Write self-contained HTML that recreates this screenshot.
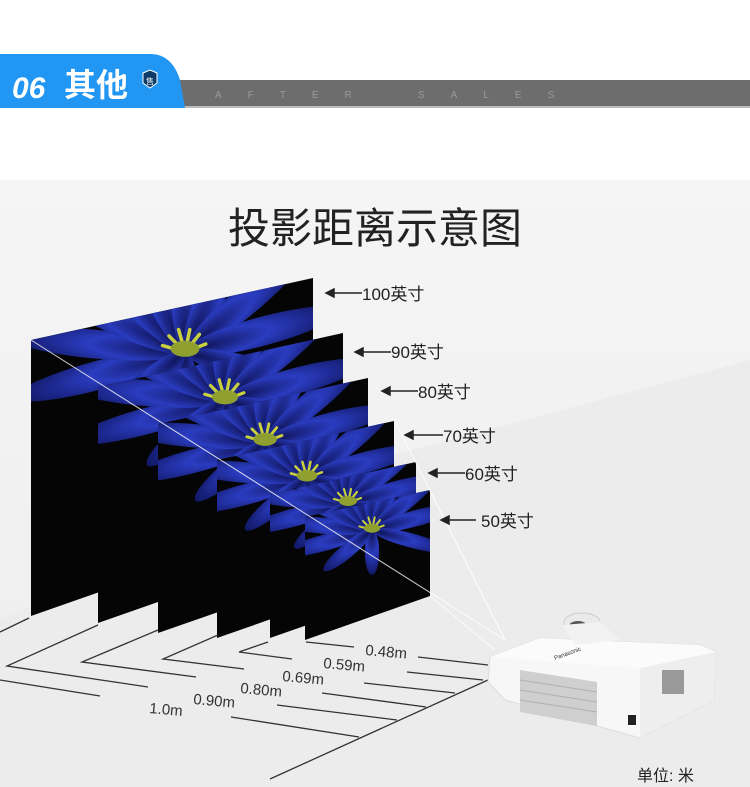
<!DOCTYPE html>
<html><head><meta charset="utf-8"><style>
html,body{margin:0;padding:0;}
body{width:750px;height:787px;overflow:hidden;background:#fff;font-family:"Liberation Sans","Noto Sans CJK SC",sans-serif;}
</style></head><body>
<svg width="750" height="787" viewBox="0 0 750 787" xmlns="http://www.w3.org/2000/svg" style="position:absolute;left:0;top:0">
<defs>
<linearGradient id="bg" x1="0" y1="0" x2="0" y2="1">
<stop offset="0" stop-color="#f5f5f5"/><stop offset="1" stop-color="#ededed"/></linearGradient>
<radialGradient id="pet" cx="0.9" cy="0.5" r="1">
<stop offset="0" stop-color="#10155a"/><stop offset="0.45" stop-color="#2a3cc0"/><stop offset="1" stop-color="#0c1050"/></radialGradient>
<g id="flower">
<g fill="url(#pet)">
<ellipse cx="-55" cy="0" rx="55" ry="9" transform="rotate(-15)"/>
<ellipse cx="-55" cy="0" rx="55" ry="9" transform="rotate(5)"/>
<ellipse cx="-55" cy="0" rx="55" ry="9" transform="rotate(25)"/>
<ellipse cx="-55" cy="0" rx="55" ry="9" transform="rotate(45)"/>
<ellipse cx="-50" cy="0" rx="50" ry="9" transform="rotate(65)"/>
<ellipse cx="-45" cy="0" rx="45" ry="9" transform="rotate(90)"/>
<ellipse cx="-50" cy="0" rx="50" ry="9" transform="rotate(115)"/>
<ellipse cx="-50" cy="0" rx="50" ry="9" transform="rotate(140)"/>
<ellipse cx="-50" cy="0" rx="50" ry="9" transform="rotate(165)"/>
<ellipse cx="-45" cy="0" rx="45" ry="8" transform="rotate(-165)"/>
<ellipse cx="-25" cy="0" rx="25" ry="8" transform="rotate(-90)"/>
<ellipse cx="-35" cy="0" rx="35" ry="8" transform="rotate(-40)"/>
</g>
<g stroke="#c8d040" stroke-width="2.2" stroke-linecap="round">
<line x1="0" y1="0" x2="-10" y2="-10"/><line x1="0" y1="0" x2="-4" y2="-14"/>
<line x1="0" y1="0" x2="3" y2="-14"/><line x1="0" y1="0" x2="9" y2="-11"/>
<line x1="0" y1="0" x2="13" y2="-5"/><line x1="0" y1="0" x2="-14" y2="-4"/>
</g>
<ellipse cx="0" cy="-2" rx="9" ry="5" fill="#8fa030"/>
</g>
<clipPath id="c1"><polygon points="31,340 313,278 313,517 31,616"/></clipPath>
<clipPath id="c2"><polygon points="98,387 343,333 343,537 98,623"/></clipPath>
<clipPath id="c3"><polygon points="158,424 368,378 368,560 158,633"/></clipPath>
<clipPath id="c4"><polygon points="217,460 394,421 394,576 217,638"/></clipPath>
<clipPath id="c5"><polygon points="270,494 416,462 416,587 270,638"/></clipPath>
<clipPath id="c6"><polygon points="305,517 430,490 430,596 305,640"/></clipPath>
</defs>
<rect x="0" y="180" width="750" height="607" fill="url(#bg)"/>
<polygon points="300,480 750,360 750,787 0,787 0,620" fill="#ececec"/>

<!-- header -->
<rect x="178" y="80" width="572" height="26" fill="#6d6d6d"/>
<rect x="178" y="106" width="572" height="2" fill="#bbb"/>
<path d="M0,54 H150 Q172,54 180,80 L185,108 H0 Z" fill="#2196f3"/>
<text x="12" y="98" fill="#fff" font-size="30" font-weight="bold" font-style="italic">06</text>
<text x="64" y="96" fill="#fff" font-size="32" font-weight="bold">其他</text>
<path d="M143,73 l7,-3 l7,3 v10 l-7,5 l-7,-5 z" fill="#0d3a66" stroke="#fff" stroke-width="1"/>
<text x="150" y="84" fill="#fff" font-size="8" text-anchor="middle">售</text>
<text x="215" y="98" fill="#9a9a9a" font-size="10" letter-spacing="26">AFTER</text>
<text x="418" y="98" fill="#9a9a9a" font-size="10" letter-spacing="26">SALES</text>

<text x="375" y="243" font-size="42" fill="#222" text-anchor="middle">投影距离示意图</text>

<!-- screens -->
<polygon points="31,340 313,278 313,517 31,616" fill="#050505"/>
<g clip-path="url(#c1)"><use href="#flower" transform="translate(185,352) scale(1.6)"/></g>
<polygon points="98,387 343,333 343,537 98,623" fill="#050505"/>
<g clip-path="url(#c2)"><use href="#flower" transform="translate(225,400) scale(1.45)"/></g>
<polygon points="158,424 368,378 368,560 158,633" fill="#050505"/>
<g clip-path="url(#c3)"><use href="#flower" transform="translate(265,442) scale(1.3)"/></g>
<polygon points="217,460 394,421 394,576 217,638" fill="#050505"/>
<g clip-path="url(#c4)"><use href="#flower" transform="translate(307,478) scale(1.15)"/></g>
<polygon points="270,494 416,462 416,587 270,638" fill="#050505"/>
<g clip-path="url(#c5)"><use href="#flower" transform="translate(348,503) scale(1.0)"/></g>
<polygon points="305,517 430,490 430,596 305,640" fill="#050505"/>
<g clip-path="url(#c6)"><use href="#flower" transform="translate(372,530) scale(0.9)"/></g>

<!-- light rays -->
<g stroke="#fff" stroke-width="1" opacity="0.8">
<line x1="31" y1="340" x2="505" y2="640"/>
<line x1="395" y1="421" x2="505" y2="640"/>
<line x1="430" y1="490" x2="505" y2="640"/>
<line x1="430" y1="596" x2="495" y2="650"/>
</g>

<!-- size labels -->
<g font-size="17" fill="#222" stroke="none">
<text x="362" y="300">100英寸</text>
<text x="391" y="358">90英寸</text>
<text x="418" y="398">80英寸</text>
<text x="443" y="442">70英寸</text>
<text x="465" y="480">60英寸</text>
<text x="481" y="527">50英寸</text>
</g>
<g stroke="#222" stroke-width="1.5" fill="#222">
<line x1="330" y1="293" x2="362" y2="293"/><path d="M326,293 l8,-4 v8z"/>
<line x1="359" y1="352" x2="391" y2="352"/><path d="M355,352 l8,-4 v8z"/>
<line x1="386" y1="391" x2="418" y2="391"/><path d="M382,391 l8,-4 v8z"/>
<line x1="409" y1="435" x2="443" y2="435"/><path d="M405,435 l8,-4 v8z"/>
<line x1="433" y1="473" x2="465" y2="473"/><path d="M429,473 l8,-4 v8z"/>
<line x1="445" y1="520" x2="476" y2="520"/><path d="M441,520 l8,-4 v8z"/>
</g>

<!-- distance lines -->
<g stroke="#333" stroke-width="1.3" fill="none">
<polyline points="0,632 29,618"/>
<polyline points="0,680 100,696"/>
<polyline points="98,625 7,666 148,687"/>
<polyline points="158,630 82,662 196,677"/>
<polyline points="218,635 163,659 244,669"/>
<polyline points="268,642 239,652 292,659"/>
<line x1="306" y1="642" x2="354" y2="647"/>
<line x1="418" y1="657" x2="488" y2="665"/>
<line x1="407" y1="672" x2="483" y2="680"/>
<line x1="364" y1="683" x2="455" y2="693"/>
<line x1="322" y1="693" x2="426" y2="707"/>
<line x1="277" y1="705" x2="397" y2="720"/>
<line x1="231" y1="717" x2="359" y2="737"/>
<line x1="270" y1="779" x2="488" y2="680"/>
</g>
<g font-size="15" fill="#333">
<text x="365" y="655" transform="rotate(5 365 655)">0.48m</text>
<text x="323" y="668" transform="rotate(5 323 668)">0.59m</text>
<text x="282" y="681" transform="rotate(5 282 681)">0.69m</text>
<text x="240" y="693" transform="rotate(5 240 693)">0.80m</text>
<text x="193" y="704" transform="rotate(5 193 704)">0.90m</text>
<text x="149" y="713" transform="rotate(5 149 713)">1.0m</text>
</g>

<!-- projector -->
<polygon points="490,657 540,638 700,645 716,652 714,700 640,738 505,700 488,682" fill="#f7f7f7" stroke="#ddd"/>
<polygon points="540,638 700,645 716,652 640,668 490,657" fill="#fbfbfb"/>
<polygon points="640,668 716,652 714,700 640,738" fill="#eeeeee"/>
<polygon points="520,670 597,682 597,726 520,712" fill="#cfcfcf"/>
<g stroke="#b0b0b0" stroke-width="1">
<line x1="520" y1="680" x2="597" y2="692"/><line x1="520" y1="690" x2="597" y2="702"/><line x1="520" y1="700" x2="597" y2="712"/>
</g>
<ellipse cx="582" cy="622" rx="18" ry="9" fill="#eaeaea" stroke="#ccc"/>
<ellipse cx="578" cy="626" rx="9" ry="5" fill="#555"/>
<polygon points="562,625 600,622 620,640 575,645" fill="#f2f2f2"/>
<text x="555" y="660" font-size="6" fill="#333" transform="rotate(-20 555 660)">Panasonic</text>
<rect x="662" y="670" width="22" height="24" fill="#999"/>
<rect x="628" y="715" width="8" height="10" fill="#222"/>

<text x="637" y="781" font-size="16" fill="#222">单位: 米</text>
</svg>
</body></html>
